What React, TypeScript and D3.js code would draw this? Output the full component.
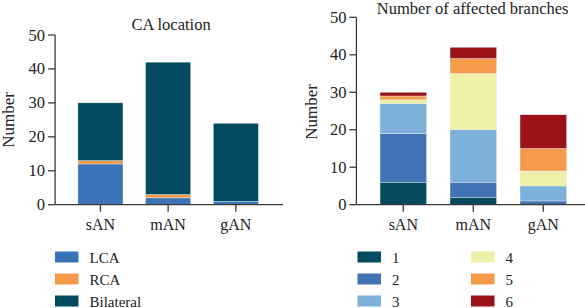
import React from 'react';
import * as d3 from 'd3';

const groups = ['sAN', 'mAN', 'gAN'];

// CA location
const locKeys = ['LCA', 'RCA', 'Bilateral'];
const lcaVals = [12, 2, 1];
const rcaVals = [1, 1, 0];
const bilVals = [17, 39, 23];
const locColors = ['#3b73b9', '#f59a4a', '#004b5f'];

// number of affected branches
const branchKeys = ['1', '2', '3', '4', '5', '6'];
const b1 = [6, 2, 0];
const b2 = [13, 4, 1];
const b3 = [8, 14, 4];
const b4 = [1, 15, 4];
const b5 = [1, 4, 6];
const b6 = [1, 3, 9];
const branchColors = ['#024b5f', '#4172b3', '#7eb0dc', '#eef0a8', '#f59a48', '#9b1217'];

const yTicks = [0, 10, 20, 30, 40, 50];

const FONT = '"Liberation Serif", "DejaVu Serif", serif';
const AXIS = '#3a3a3a';

function StackPanel({ title, keys, series, colors, x0, x1, axisEnd, yTop, titleY, labelX, labelY }) {
  const rows = groups.map((g, i) => {
    const r: any = { g };
    keys.forEach((k, j) => (r[k] = series[j][i]));
    return r;
  });
  const stacked = d3.stack().keys(keys)(rows);
  const step = (x1 - x0) / 3;
  const xScale = d3.scaleBand().domain(groups).range([x0, x1]).paddingInner(0.335).paddingOuter(0.1675);
  const yScale = d3.scaleLinear().domain([0, 50]).range([204.7, yTop]);
  const axisX = x0 - step * 0.17;
  return (
    <g>
      <text x={(axisX + axisEnd) / 2 + 2} y={titleY} textAnchor="middle" fontSize={16.5} fill="#222">{title}</text>
      {stacked.map((s, si) =>
        s.map((d, di) => (
          <rect
            key={si + '-' + di}
            x={xScale(groups[di])}
            y={yScale(d[1])}
            width={xScale.bandwidth()}
            height={Math.max(0, yScale(d[0]) - yScale(d[1]))}
            fill={colors[si]}
            stroke="#e8eef2"
            strokeWidth={0.4}
          />
        ))
      )}
      <line x1={axisX} x2={axisX} y1={yScale(50)} y2={yScale(0)} stroke={AXIS} strokeWidth={1.3} />
      <line x1={axisX} x2={axisEnd} y1={yScale(0)} y2={yScale(0)} stroke={AXIS} strokeWidth={1.3} />
      {yTicks.map((t) => (
        <g key={t}>
          <line x1={axisX - 7} x2={axisX} y1={yScale(t)} y2={yScale(t)} stroke={AXIS} strokeWidth={1.3} />
          <text x={axisX - 10} y={yScale(t) + 5.5} textAnchor="end" fontSize={16.5} fill="#222">{t}</text>
        </g>
      ))}
      {groups.map((g) => {
        const cx = xScale(g) + xScale.bandwidth() / 2;
        return (
          <g key={g}>
            <line x1={cx} x2={cx} y1={yScale(0)} y2={yScale(0) + 7} stroke={AXIS} strokeWidth={1.3} />
            <text x={cx} y={230} textAnchor="middle" fontSize={16} fill="#222">{g}</text>
          </g>
        );
      })}
      <text transform={`translate(${labelX},${labelY}) rotate(-90)`} textAnchor="middle" fontSize={17} fill="#222">Number</text>
    </g>
  );
}

function Legend({ keys, colors, x, colGap, perCol }) {
  return (
    <g>
      {keys.map((k, i) => {
        const col = Math.floor(i / perCol);
        const row = i % perCol;
        const lx = x + col * colGap;
        const ly = 257 + row * 22;
        return (
          <g key={k}>
            <rect x={lx} y={ly - 5.5} width={23.5} height={11} fill={colors[i]} />
            <text x={lx + 34.5} y={ly + 5.5} fontSize={15} fill="#222">{k}</text>
          </g>
        );
      })}
    </g>
  );
}

export default function App() {
  return (
    <svg width={585} height={308} style={{ position: 'absolute', left: 0, top: 0, fontFamily: FONT }}>
      <rect width={585} height={308} fill="#fff" />
      <StackPanel
        title="CA location"
        keys={locKeys}
        series={[lcaVals, rcaVals, bilVals]}
        colors={locColors}
        x0={66.6}
        x1={269.7}
        axisEnd={283}
        yTop={35}
        titleY={30}
        labelX={14}
        labelY={120}
      />
      <StackPanel
        title="Number of affected branches"
        keys={branchKeys}
        series={[b1, b2, b3, b4, b5, b6]}
        colors={branchColors}
        x0={368.3}
        x1={578.3}
        axisEnd={585}
        yTop={17.3}
        titleY={13.5}
        labelX={317}
        labelY={112}
      />
      <Legend keys={locKeys} colors={locColors} x={55} colGap={0} perCol={3} />
      <Legend keys={branchKeys} colors={branchColors} x={357.5} colGap={113.5} perCol={3} />
    </svg>
  );
}
